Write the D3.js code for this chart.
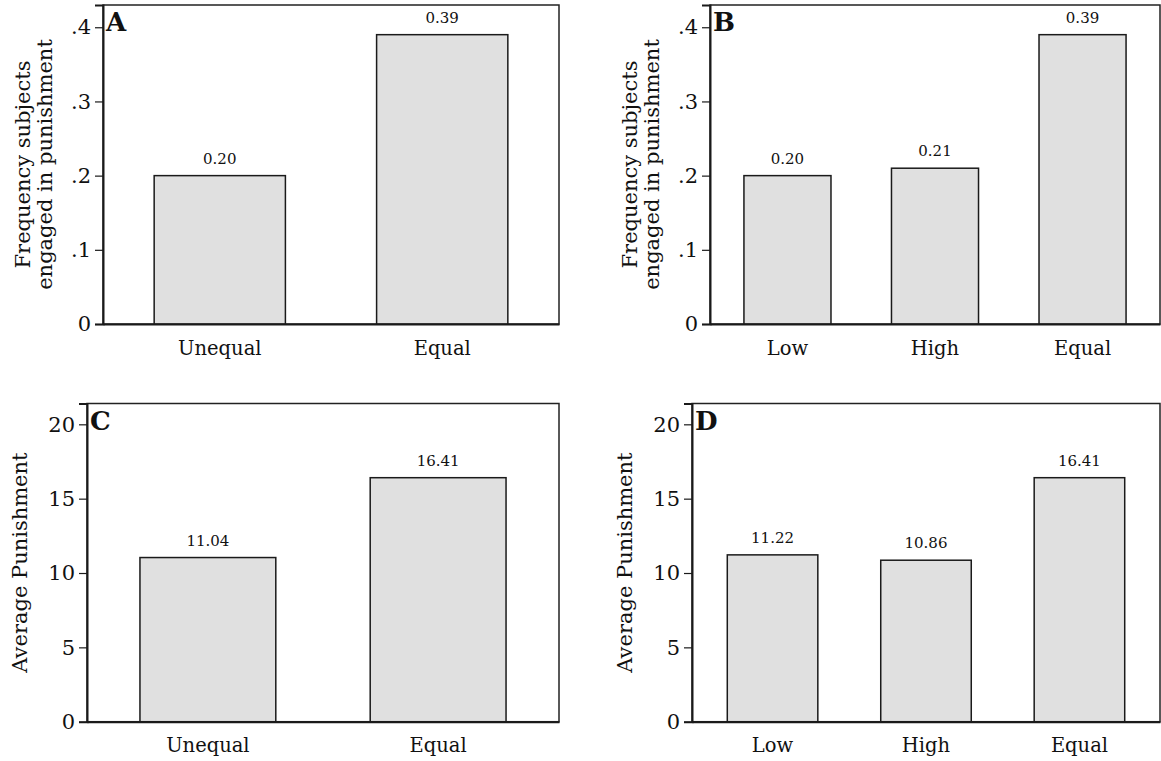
<!DOCTYPE html>
<html>
<head>
<meta charset="utf-8">
<script src="https://cdn.jsdelivr.net/npm/d3@7"></script>
<style>
  html, body { margin: 0; padding: 0; background: #fff; }
  svg { display: block; }
  text { font-family: "DejaVu Serif", serif; fill: #111; }
</style>
</head>
<body>
<svg id="chart" width="1161" height="761"></svg>
<script>
// ---- data ----
const catsA = ["Unequal", "Equal"];
const valsA = [0.20, 0.39];
const catsB = ["Low", "High", "Equal"];
const valsB = [0.20, 0.21, 0.39];
const catsC = ["Unequal", "Equal"];
const valsC = [11.04, 16.41];
const catsD = ["Low", "High", "Equal"];
const valsD = [11.22, 10.86, 16.41];

const freqTicks = [0, 0.1, 0.2, 0.3, 0.4];
const freqTickLabels = ["0", ".1", ".2", ".3", ".4"];
const punTicks = [0, 5, 10, 15, 20];
const punTickLabels = ["0", "5", "10", "15", "20"];

const freqTitle = ["Frequency subjects", "engaged in punishment"];
const punTitle = ["Average Punishment"];

// ---- layout ----
const panels = [
  { letter: "A", cats: catsA, vals: valsA, x0: 103, x1: 559, y0: 5, y1: 324, ymax: 0.43,
    ticks: freqTicks, tickLabels: freqTickLabels, title: freqTitle, fmt: d3.format(".2f") },
  { letter: "B", cats: catsB, vals: valsB, x0: 710, x1: 1160, y0: 5, y1: 324, ymax: 0.43,
    ticks: freqTicks, tickLabels: freqTickLabels, title: freqTitle, fmt: d3.format(".2f") },
  { letter: "C", cats: catsC, vals: valsC, x0: 87, x1: 559, y0: 403.5, y1: 721.7, ymax: 21.4,
    ticks: punTicks, tickLabels: punTickLabels, title: punTitle, fmt: d3.format(".2f") },
  { letter: "D", cats: catsD, vals: valsD, x0: 692, x1: 1160, y0: 403.5, y1: 721.7, ymax: 21.4,
    ticks: punTicks, tickLabels: punTickLabels, title: punTitle, fmt: d3.format(".2f") }
];

const svg = d3.select("#chart");

panels.forEach(p => {
  const g = svg.append("g");
  const x = d3.scaleBand().domain(p.cats).range([p.x0, p.x1])
    .paddingInner(0.41).paddingOuter(0.23);
  const y = d3.scaleLinear().domain([0, p.ymax]).range([p.y1, p.y0]);

  // frame
  g.append("rect")
    .attr("x", p.x0).attr("y", p.y0)
    .attr("width", p.x1 - p.x0).attr("height", p.y1 - p.y0)
    .attr("fill", "none").attr("stroke", "#222").attr("stroke-width", 1.5);

  // bars
  p.cats.forEach((c, i) => {
    g.append("rect")
      .attr("x", x(c)).attr("y", y(p.vals[i]))
      .attr("width", x.bandwidth()).attr("height", y(0) - y(p.vals[i]))
      .attr("fill", "#e0e0e0").attr("stroke", "#1a1a1a").attr("stroke-width", 1.5);
    g.append("text")
      .attr("x", x(c) + x.bandwidth() / 2).attr("y", y(p.vals[i]) - 12)
      .attr("text-anchor", "middle").attr("font-size", 15)
      .text(p.fmt(p.vals[i]));
  });

  // y axis
  const yAxis = d3.axisLeft(y).tickValues(p.ticks)
    .tickFormat((d, i) => p.tickLabels[i]).tickSize(8).tickPadding(4);
  const ya = g.append("g").attr("transform", `translate(${p.x0},0)`).call(yAxis);
  ya.select(".domain").attr("stroke", "#1a1a1a").attr("stroke-width", 2);
  ya.selectAll(".tick line").attr("stroke", "#1a1a1a").attr("stroke-width", 1.2);
  ya.selectAll(".tick text").attr("font-size", 21).attr("font-family", "DejaVu Serif").attr("fill", "#111");

  // x axis
  const xAxis = d3.axisBottom(x).tickSize(0).tickPadding(0);
  const xa = g.append("g").attr("transform", `translate(0,${p.y1})`).call(xAxis);
  xa.select(".domain").attr("stroke", "#1a1a1a").attr("stroke-width", 2);
  xa.selectAll(".tick text").attr("font-size", 19.5).attr("font-family", "DejaVu Serif")
    .attr("fill", "#111").attr("dy", null).attr("y", 30.5);

  // axis title
  const lines = p.title;
  const lastBase = p.x0 - (lines.length > 1 ? 51 : 60);
  const cy = (p.y0 + p.y1) / 2;
  lines.forEach((t, i) => {
    const bx = lastBase - (lines.length - 1 - i) * 22;
    g.append("text")
      .attr("transform", `translate(${bx},${cy}) rotate(-90)`)
      .attr("text-anchor", "middle").attr("font-size", 21)
      .text(t);
  });

  // panel letter
  g.append("text")
    .attr("x", p.x0 + 3).attr("y", p.y0 + 26)
    .attr("font-size", 26).attr("font-weight", "bold")
    .text(p.letter);
});
</script>
</body>
</html>
